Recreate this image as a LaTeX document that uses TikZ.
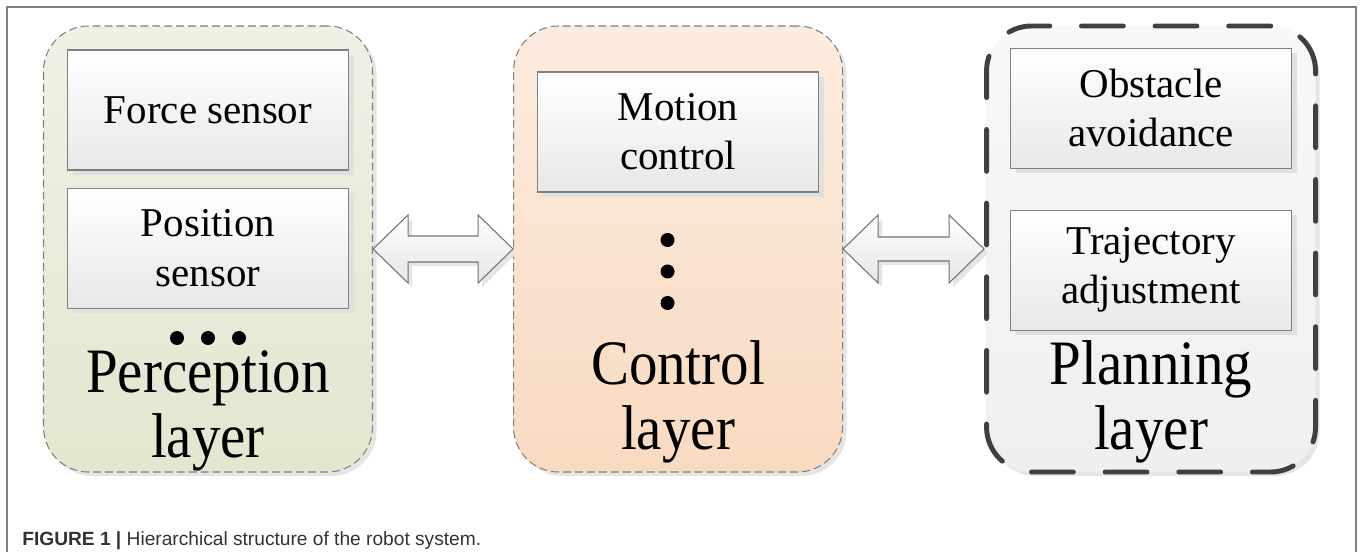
\documentclass[tikz,border=0pt]{standalone}
\usepackage{fontspec}
\setmainfont{Liberation Serif}
\newfontfamily\layerfont[FakeStretch=0.9]{Liberation Serif}
\newfontfamily\capfont{Liberation Sans}
\usetikzlibrary{positioning, calc, shadows}

\definecolor{perctop}{HTML}{EFF1E5}
\definecolor{percbot}{HTML}{E2E7CF}
\definecolor{ctrltop}{HTML}{FCECDF}
\definecolor{ctrlbot}{HTML}{F8DAC0}
\definecolor{plantop}{HTML}{F8F8F8}
\definecolor{planbot}{HTML}{EFEFEF}

% block double arrow between two layers: from, to, head length, shaft half height
\newcommand{\dblarrow}[4]{%
  \draw[blockarr] (#1.east) -- ($(#1.east)+(#3,0.68)$) -- ($(#1.east)+(#3,#4)$)
    -- ($(#2.west)+(-#3,#4)$) -- ($(#2.west)+(-#3,0.68)$) -- (#2.west)
    -- ($(#2.west)+(-#3,-0.68)$) -- ($(#2.west)+(-#3,-#4)$)
    -- ($(#1.east)+(#3,-#4)$) -- ($(#1.east)+(#3,-0.68)$) -- cycle;}

\begin{document}
\begin{tikzpicture}[
    font=\fontsize{23.3}{28}\selectfont,
    layer/.style = {
        rectangle, rounded corners=0.9cm,
        minimum width=6.58cm, minimum height=8.92cm, inner sep=0pt,
        drop shadow={shadow xshift=0.08cm, shadow yshift=-0.08cm,
                     fill=black!10, opacity=1}
    },
    thin/.style = {draw=black!50, line width=0.6pt, dash pattern=on 4.5pt off 2.3pt},
    thick/.style = {draw=black!75, line width=2.8pt, dash pattern=on 23.8pt off 18.1pt,
                    line cap=round},
    sub/.style = {
        rectangle, draw=black!50, top color=white, bottom color=black!9,
        minimum width=5.62cm, minimum height=2.4cm, inner sep=0pt,
        align=center, line width=0.6pt,
        drop shadow={shadow xshift=0.1cm, shadow yshift=-0.1cm,
                     fill=black!12, opacity=1}
    },
    title/.style = {font=\layerfont\fontsize{36}{37}\selectfont,
                    align=center, inner sep=0pt, anchor=north},
    blockarr/.style = {draw=black!55, line width=0.6pt, top color=white,
                       bottom color=black!10,
                       drop shadow={shadow xshift=0.08cm, shadow yshift=-0.08cm,
                                    fill=black!10, opacity=1}},
]

% Page and frame
\fill[white] (0,0) rectangle (27.26,-11.04);
\useasboundingbox (0,0) rectangle (27.26,-11.04);
\draw[black!50, line width=0.8pt] (0.14,-11.04) |- (27.12,-0.14) -- (27.12,-11.04);

% Layers
\node[layer, thin, top color=perctop, bottom color=percbot] (perc) at (4.16,-4.98) {};
\node[layer, thin, top color=ctrltop, bottom color=ctrlbot, right=2.8cm of perc] (ctrl) {};
\node[layer, thick, top color=plantop, bottom color=planbot, right=2.82cm of ctrl] (plan) {};

% Perception layer
\node[sub, below=0.48cm of perc.north] (force) {Force sensor};
\node[sub, below=0.34cm of force] (pos) {Position\\sensor};
\foreach \dx in {-0.62,0,0.62}
    \fill ($(perc.center)+(\dx,-1.78)$) circle (0.14);
\node[title] (perctitle) at ($(perc.center)+(0,-2.02)$) {Perception\\layer};

% Control layer
\node[sub, below=0.92cm of ctrl.north] (motion) {Motion\\control};
\foreach \dy in {0.18,-0.45,-1.08}
    \fill ($(ctrl.center)+(-0.21,\dy)$) circle (0.14);
\node[title] (ctrltitle) at ($(ctrl.center)+(0,-1.82)$) {Control\\layer};

% Planning layer
\node[sub, below=0.48cm of plan.north] (obst) {Obstacle\\avoidance};
\node[sub, below=0.82cm of obst] (traj) {Trajectory\\adjustment};
\node[title] (plantitle) at ($(plan.center)+(0,-1.82)$) {Planning\\layer};

% Arrows
\dblarrow{perc}{ctrl}{0.7}{0.26}
\dblarrow{ctrl}{plan}{0.7}{0.24}

% Caption
\node[anchor=base west, inner sep=0pt, text=black!80,
      font=\capfont\fontsize{10.9}{12}\selectfont] (caption) at (0.44,-10.9)
    {\textbf{FIGURE 1 |} Hierarchical structure of the robot system.};

\end{tikzpicture}
\end{document}
